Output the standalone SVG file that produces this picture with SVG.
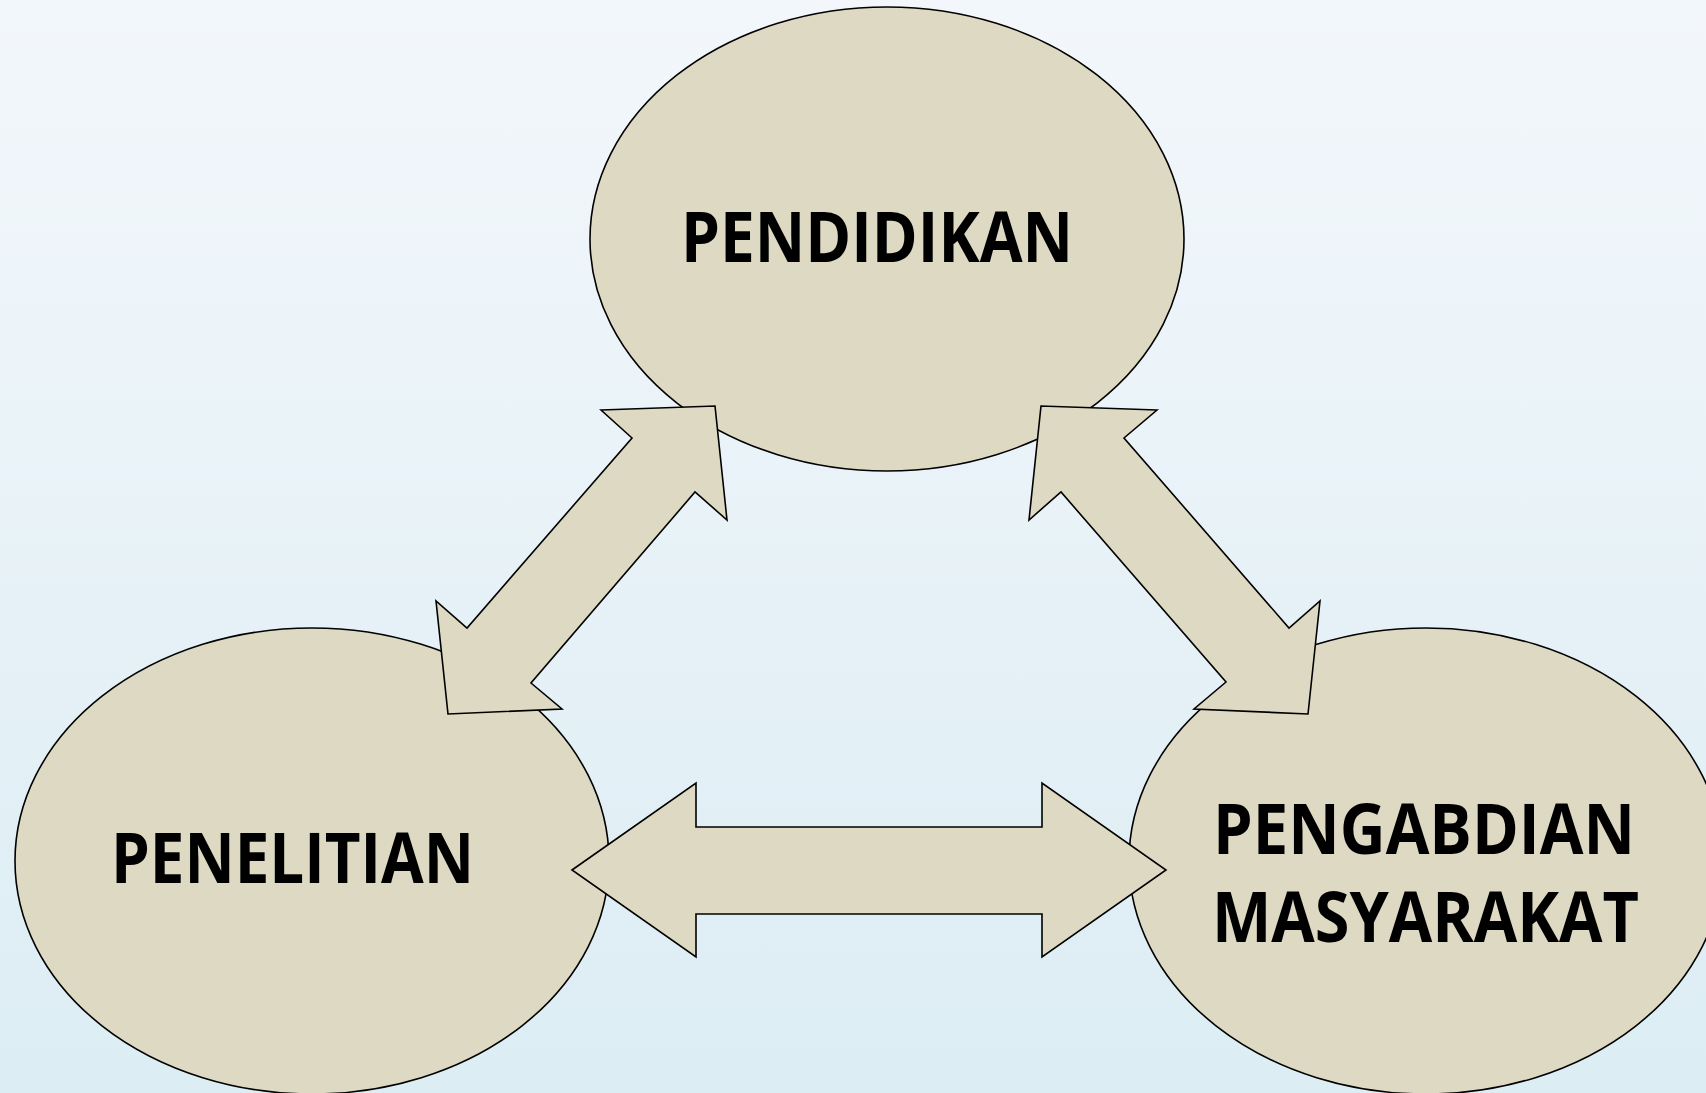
<svg xmlns="http://www.w3.org/2000/svg" width="1706" height="1093" viewBox="0 0 1706 1093">
<defs>
<linearGradient id="bg" x1="0" y1="0" x2="0" y2="1">
<stop offset="0" stop-color="#F3F7FB"/>
<stop offset="1" stop-color="#DCEDF4"/>
</linearGradient>
</defs>
<style>
.shape{fill:#DDD9C3;stroke:#000;stroke-width:1.6;stroke-linejoin:miter}
.lbl{font-family:"Open Sans","Noto Sans","DejaVu Sans",sans-serif;font-weight:bold;font-size:69px;fill:#000}
</style>
<rect x="0" y="0" width="1706" height="1093" fill="url(#bg)"/>
<g id="node-pendidikan">
<ellipse class="shape" cx="887" cy="239" rx="297" ry="232"/>
<text class="lbl" x="681" y="262" textLength="392" lengthAdjust="spacingAndGlyphs">PENDIDIKAN</text>
</g>
<g id="node-penelitian">
<ellipse class="shape" cx="312" cy="861" rx="297" ry="233"/>
<text class="lbl" x="111" y="883" textLength="363" lengthAdjust="spacingAndGlyphs">PENELITIAN</text>
</g>
<g id="node-pengabdian">
<ellipse class="shape" cx="1426" cy="861" rx="297" ry="233"/>
<text class="lbl" x="1213" y="854" textLength="422" lengthAdjust="spacingAndGlyphs">PENGABDIAN</text>
<text class="lbl" x="1212" y="942" textLength="427" lengthAdjust="spacingAndGlyphs">MASYARAKAT</text>
</g>
<g id="connectors">
<polygon class="shape" points="601,410 715,406 727,520 695,492 531,683 562,709 448,714 436,601 467,628 632,438"/>
<polygon class="shape" points="1157,410 1041,406 1029,520 1061,492 1226,682 1194,709 1308,714 1320,601 1289,628 1124,438"/>
<polygon class="shape" points="572,870 696,783 696,827 1042,827 1042,783 1166,870 1042,957 1042,914 696,914 696,957"/>
</g>
</svg>
